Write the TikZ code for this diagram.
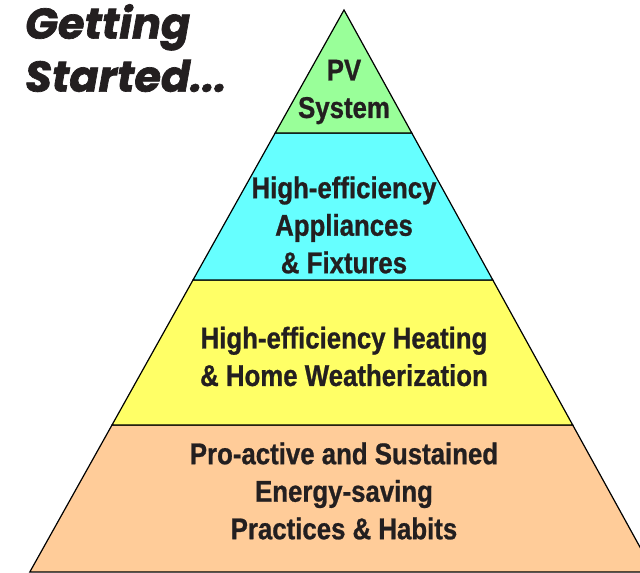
\documentclass[tikz,border=0pt]{standalone}
\usepackage{fontspec}
\newfontfamily\labelfont{Liberation Sans}[FakeStretch=0.86,BoldFeatures={FakeBold=0.8}]
\newfontfamily\titlefont{Poppins}[BoldItalicFeatures={FakeBold=1.6}]
\definecolor{pvgreen}{HTML}{99FF99}
\definecolor{appcyan}{HTML}{66FFFF}
\definecolor{heatyellow}{HTML}{FFFF66}
\definecolor{habitorange}{HTML}{FFCC99}
\definecolor{inkgray}{HTML}{231F20}
\begin{document}
\begin{tikzpicture}[x=1pt,y=-1pt,
        layer/.style={draw=black,line width=1.2pt,line join=miter},
        tier/.style={align=center,text=inkgray,inner sep=0pt,
                font=\labelfont\bfseries\fontsize{30}{37.5}\selectfont}]
        \useasboundingbox (0,0) rectangle (640,573);

        % corners of the pyramid, top to bottom
        \coordinate (top) at (344,10);
        \coordinate (l1) at (275.2,133);
        \coordinate (r1) at (411.8,133);
        \coordinate (l2) at (193,280);
        \coordinate (r2) at (492.8,280);
        \coordinate (l3) at (112,425);
        \coordinate (r3) at (572.7,425);
        \coordinate (l4) at (29.8,572);
        \coordinate (r4) at (653.7,572);

        \filldraw[layer,fill=habitorange] (l3) -- (r3) -- (r4) -- (l4) -- cycle;
        \filldraw[layer,fill=heatyellow] (l2) -- (r2) -- (r3) -- (l3) -- cycle;
        \filldraw[layer,fill=appcyan] (l1) -- (r1) -- (r2) -- (l2) -- cycle;
        \filldraw[layer,fill=pvgreen] (top) -- (r1) -- (l1) -- cycle;

        \node[tier] (pv) at (344,92) {PV\\System};
        \node[tier] (appliances) at (344,225) {High-efficiency\\Appliances\\\& Fixtures};
        \node[tier] (heating) at (344,356.5) {High-efficiency Heating\\\& Home Weatherization};
        \node[tier] (habits) at (344,491) {Pro-active and Sustained\\Energy-saving\\Practices \& Habits};

        \node[anchor=north west,align=left,inner sep=0pt,text=inkgray,
                font=\titlefont\bfseries\itshape\fontsize{43}{53}\selectfont]
                (title) at (25,4) {Getting\\Started...};
\end{tikzpicture}
\end{document}
